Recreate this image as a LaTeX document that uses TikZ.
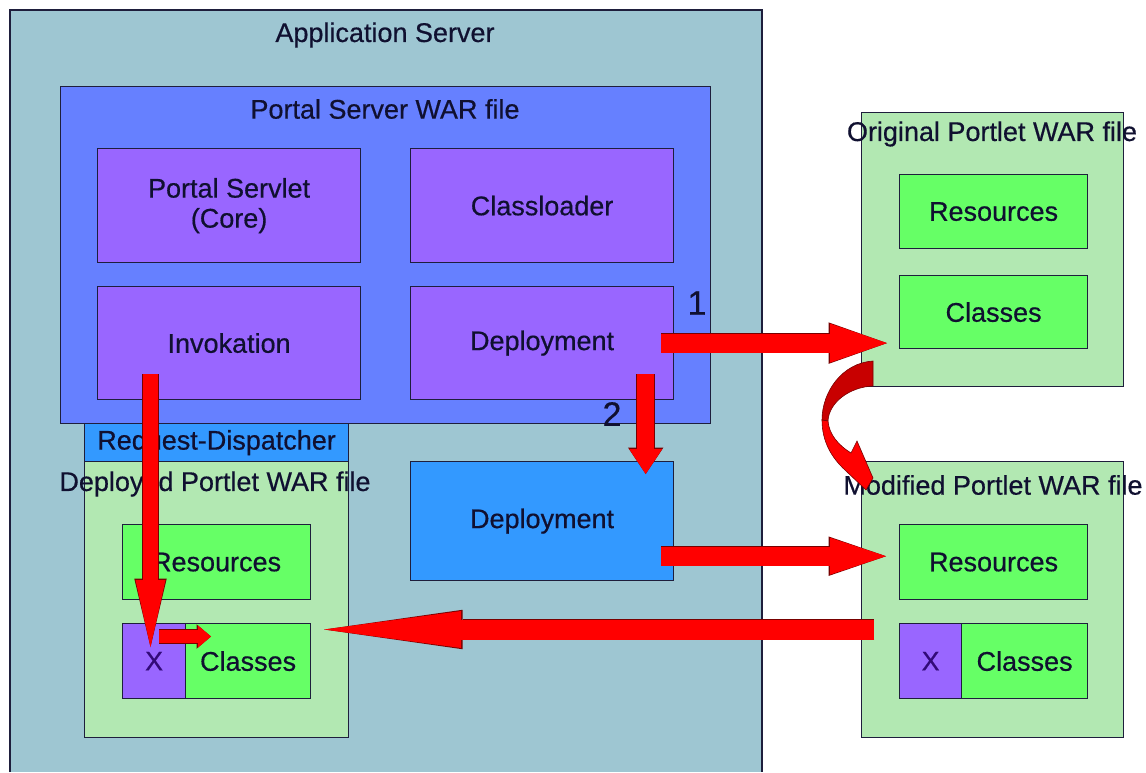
\documentclass[tikz,border=0pt]{standalone}
\usepackage{fontspec}
\setmainfont{Liberation Sans}[FakeBold=0.5]
\usetikzlibrary{arrows.meta,calc}
\definecolor{appfill}{RGB}{158,198,210}
\definecolor{portalfill}{RGB}{102,128,255}
\definecolor{purp}{RGB}{153,102,255}
\definecolor{bluebox}{RGB}{51,153,255}
\definecolor{warfill}{RGB}{178,232,178}
\definecolor{grn}{RGB}{102,255,102}
\definecolor{edgec}{RGB}{30,30,60}
\definecolor{txt}{RGB}{16,16,48}
\definecolor{xcol}{RGB}{50,10,120}
\definecolor{arrred}{RGB}{255,0,0}
\definecolor{arrdark}{RGB}{120,0,0}
\definecolor{curvdark}{RGB}{200,0,0}
\tikzset{
  box/.style={draw=edgec, line width=1.2pt, inner sep=0pt, anchor=north west,
    font=\fontsize{27}{30}\selectfont, text=txt, align=center},
  lbl/.style={inner sep=0pt, font=\fontsize{27}{30}\selectfont, text=txt, align=center},
  numlbl/.style={inner sep=0pt, font=\fontsize{34}{36}\selectfont, text=txt},
  fatarr/.style n args={6}{arrred, line width=#1,
    -{Triangle[length=#2,width=#3,line width=0pt]},
    preaction={draw=arrdark, line width=#4,
      -{Triangle[length=#5,width=#6,line width=0pt]}}}
}
\begin{document}
\begin{tikzpicture}[x=1pt,y=-1pt]
\useasboundingbox (0,0) rectangle (1146,772);
\fill[white] (0,0) rectangle (1146,772);
% Application server
\fill[appfill] (10,10) rectangle (762,772);
\draw[edgec, line width=1.2pt] (10,772) -- (10,10) -- (762,10) -- (762,772);
\node[lbl] (apptitle) at (385,35) {Application Server};
% Portal server WAR
\node[box, fill=portalfill, minimum width=650, minimum height=337] (portal) at (60,86) {};
\node[lbl] (portaltitle) at (385,109) {Portal Server WAR file};
\node[box, fill=purp, minimum width=263, minimum height=114] (servlet) at (97,148) {Portal Servlet\\(Core)};
\node[box, fill=purp, minimum width=263, minimum height=114] (classloader) at (410,148) {Classloader};
\node[box, fill=purp, minimum width=263, minimum height=113] (invok) at (97,286) {Invokation};
\node[box, fill=purp, minimum width=263, minimum height=113] (deploy1) at (410,286) {Deployment};
% Request dispatcher and deployed portlet
\node[box, fill=bluebox, minimum width=264, minimum height=38] (reqdisp) at (84,423) {Request-Dispatcher};
\node[box, fill=warfill, minimum width=264, minimum height=276] (deployed) at (84,461) {};
\node[lbl] (deployedtitle) at (215,484) {Deployed Portlet WAR file};
\node[box, fill=grn, minimum width=188, minimum height=75] (res1) at (122,524) {Resources};
\node[box, fill=purp, minimum width=63, minimum height=75, text=xcol] (x1) at (122,623) {X};
\node[box, fill=grn, minimum width=125, minimum height=75] (cls1) at (185,623) {Classes};
% second deployment
\node[box, fill=bluebox, minimum width=263, minimum height=119] (deploy2) at (410,461) {Deployment};
% Original portlet WAR
\node[box, fill=warfill, minimum width=262, minimum height=274] (orig) at (861,112) {};
\node[lbl] (origtitle) at (992,134) {Original Portlet WAR file};
\node[box, fill=grn, minimum width=188, minimum height=74] (res2) at (899,174) {Resources};
\node[box, fill=grn, minimum width=188, minimum height=73] (cls2) at (899,275) {Classes};
% Modified portlet WAR
\node[box, fill=warfill, minimum width=262, minimum height=276] (mod) at (861,461) {};
\node[lbl] (modtitle) at (993,485) {Modified Portlet WAR file};
\node[box, fill=grn, minimum width=188, minimum height=75] (res3) at (899,524) {Resources};
\node[box, fill=purp, minimum width=62, minimum height=75, text=xcol] (x3) at (899,623) {X};
\node[box, fill=grn, minimum width=126, minimum height=75] (cls3) at (961,623) {Classes};
% step labels
\node[numlbl] (one) at (697,303) {1};
\node[numlbl] (two) at (612,414) {2};
% arrow end points
\coordinate (a1s) at ($(deploy1.east)+(-13,0)$);
\coordinate (a1e) at ($(orig.west |- deploy1.east)+(26,0)$);
\coordinate (a2s) at ($(deploy1.south east)+(-28.5,-26)$);
\coordinate (a2e) at ($(deploy1.south east |- deploy2.north)+(-28.5,13)$);
\coordinate (a3s) at ($(invok.south west)+(53.5,-26)$);
\coordinate (a3e) at ($(invok.south west |- x1.north)+(53.5,24)$);
\coordinate (a4s) at ($(x1.north west)+(37,13.5)$);
\coordinate (a4e) at ($(cls1.north west)+(26,13.5)$);
\coordinate (a5s) at ($(deploy2.south east)+(-13,-25)$);
\coordinate (a5e) at ($(deploy2.south east -| mod.west)+(25,-25)$);
\coordinate (a6s) at ($(x3.north west)+(-25,6.5)$);
\coordinate (a6e) at ($(deployed.east |- x3.north)+(-25,6.5)$);
% arrows
\draw[fatarr={19pt}{57pt}{39pt}{20.5pt}{58.5pt}{41.5pt}] (a1s) -- (a1e);
\draw[fatarr={17pt}{25pt}{33pt}{18.5pt}{26.5pt}{35.5pt}] (a2s) -- (a2e);
\draw[fatarr={15pt}{67pt}{30pt}{16.5pt}{68.5pt}{32.5pt}] (a3s) -- (a3e);
\draw[fatarr={13pt}{13pt}{22pt}{14.5pt}{14.5pt}{24.5pt}] (a4s) -- (a4e);
\draw[fatarr={19pt}{56pt}{37pt}{20.5pt}{57.5pt}{39.5pt}] (a5s) -- (a5e);
\draw[fatarr={20pt}{137pt}{37pt}{21.5pt}{138.5pt}{39.5pt}] (a6s) -- (a6e);
% curved arrow from original to modified
\filldraw[fill=curvdark, draw=arrdark, line width=0.6pt]
  (873,361) .. controls (842,363) and (822,392) .. (822,420)
  -- (828,421) .. controls (829,402) and (850,387) .. (873,386) -- cycle;
\filldraw[fill=arrred, draw=arrdark, line width=0.6pt]
  (822,420) .. controls (822,442) and (832,458) .. (845,470)
  -- (866,490) -- (873,478) -- (857,441) -- (851,453)
  .. controls (838,445) and (829,434) .. (828,421) -- cycle;
\end{tikzpicture}
\end{document}
